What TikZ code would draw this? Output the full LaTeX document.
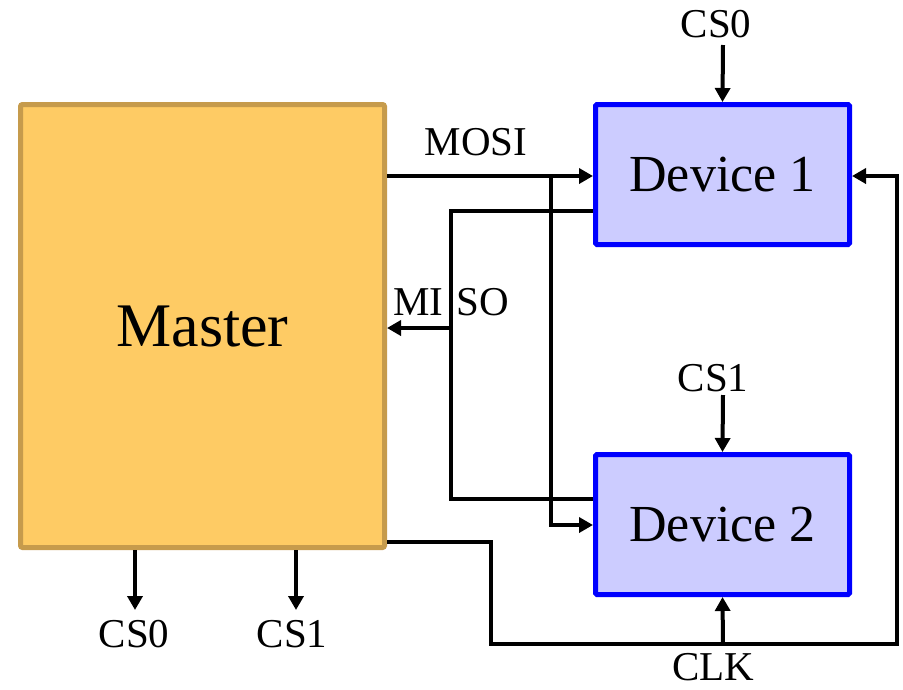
\documentclass[tikz,border=0pt]{standalone}
\usepackage{fontspec}
\setmainfont{Liberation Serif}
\usetikzlibrary{arrows.meta,calc}
\definecolor{mfill}{HTML}{FECB64}
\definecolor{mdraw}{HTML}{C69B4C}
\definecolor{dfill}{HTML}{CCCCFF}
\definecolor{ddraw}{HTML}{0000FF}
\begin{document}
\begin{tikzpicture}[x=1pt,y=-1pt,
  masterbox/.style={draw=mdraw,fill=mfill,line width=5pt,rounded corners=2pt,
    minimum width=364pt,minimum height=443pt,inner sep=0pt,font=\fontsize{62}{70}\selectfont},
  devbox/.style={draw=ddraw,fill=dfill,line width=5pt,rounded corners=1.5pt,
    minimum width=254pt,minimum height=140pt,inner sep=0pt,font=\fontsize{52}{60}\selectfont},
  sig/.style={line width=4pt},
  arr/.style={sig,-{Triangle[length=14pt,width=15pt]}},
  lbl/.style={anchor=base,inner sep=0pt,font=\fontsize{41}{48}\selectfont}]
\useasboundingbox (0,0) rectangle (903,689);
% boxes
\node[masterbox] (master) at (202.5,326) {\raisebox{-3pt}{Master}};
\node[devbox] (dev1) at (722.5,174.5) {\raisebox{-2pt}{Device 1}};
\node[devbox] (dev2) at (722.5,524.5) {\raisebox{-2pt}{Device 2}};
% helper coordinates
\coordinate (y176) at (0,176);
\coordinate (y211) at (0,211);
\coordinate (y328) at (0,328);
\coordinate (y499) at (0,499);
\coordinate (y525) at (0,525);
\coordinate (y542) at (0,542);
\coordinate (jmosi) at (551,176);
\coordinate (mosib) at (551,525);
\coordinate (miso1) at (451,211);
\coordinate (miso2) at (451,499);
\coordinate (jmiso) at (451,328);
\coordinate (clk1) at (491,542);
\coordinate (clk2) at (491,644);
\coordinate (clk3) at (897,644);
\coordinate (clk4) at (897,176);
\coordinate (jclk) at (723,644);
\coordinate (cs0s) at (723,45);
\coordinate (cs1s) at (723,395);
\coordinate (mcs0) at (135,610);
\coordinate (mcs1) at (296,610);
% labels
\node[lbl] (lmosi) at (476,155) {MOSI};
\node[lbl] (lmiso) at (451,315) {MI\hspace{0.32em}SO};
\node[lbl] (lclk) at (713,680) {CLK};
\node[lbl] (lcs0t) at (716,37) {CS0};
\node[lbl] (lcs1t) at (713,391) {CS1};
\node[lbl] (lcs0b) at (134,647) {CS0};
\node[lbl] (lcs1b) at (292,647) {CS1};
% MOSI
\draw[arr] (master.east |- y176) -- (dev1.west |- y176);
\draw[arr] (jmosi) -- (mosib) -- (dev2.west |- y525);
% MISO
\draw[sig] (dev1.west |- y211) -- (miso1) -- (miso2) -- (dev2.west |- y499);
\draw[arr] (jmiso) -- (master.east |- y328);
% CLK
\draw[arr] (master.east |- y542) -- (clk1) -- (clk2) -- (clk3) -- (clk4) -- (dev1.east |- y176);
\draw[arr] (jclk) -- (dev2.south);
% chip selects
\draw[arr] (cs0s) -- (dev1.north);
\draw[arr] (cs1s) -- (dev2.north);
\draw[arr] (master.south -| mcs0) -- (mcs0);
\draw[arr] (master.south -| mcs1) -- (mcs1);
\end{tikzpicture}
\end{document}
